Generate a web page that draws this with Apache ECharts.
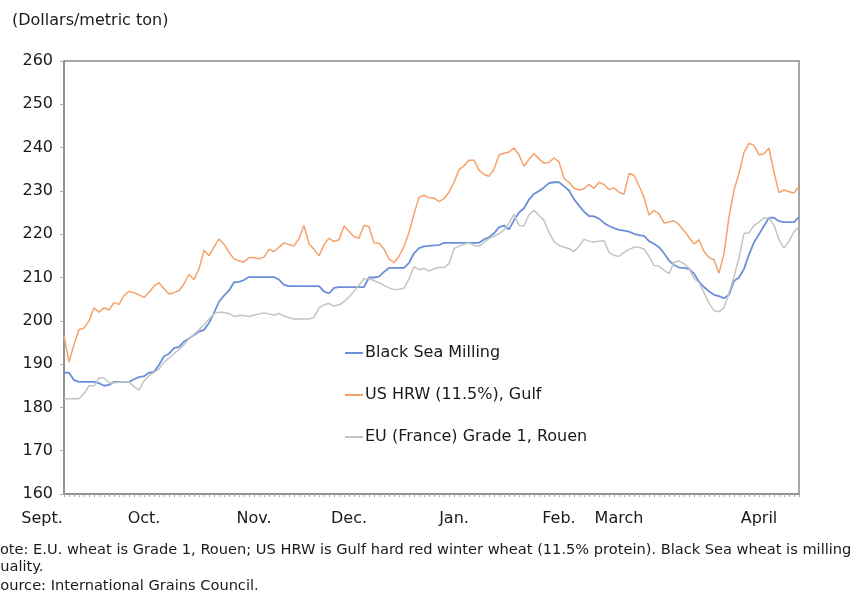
<!DOCTYPE html>
<html>
<head>
    <meta charset="UTF-8">
    <title>Wheat export prices</title>
    <style>
        html, body { margin: 0; padding: 0; background: #fff; }
        #main { width: 856px; height: 595px; }
    </style>
</head>
<body>
<div id="main"></div>
<script src="https://cdn.jsdelivr.net/npm/echarts@6/dist/echarts.min.js"></script>
<script type="text/javascript">
    // month labels and the point index they sit under
    var monthLabels = ['Sept.', 'Oct.', 'Nov.', 'Dec.', 'Jan.', 'Feb.', 'March', 'April'];
    var monthIndex = [0, 16, 38, 57, 78, 99, 111, 139];

    // prices, dollars per metric ton (one point per ~5px)
    var blackSea = [
        188, 188, 186.3, 185.9, 185.9, 185.9, 185.9, 185.6, 185, 185.2,
        185.9, 185.9, 185.9, 185.9, 186.5, 187, 187.2, 188, 188.2, 189.8,
        191.8, 192.4, 193.7, 194, 195.2, 195.9, 196.7, 197.5, 197.9, 199.5,
        201.8, 204.4, 205.8, 207, 208.9, 209, 209.4, 210.1, 210.1, 210.1,
        210.1, 210.1, 210.1, 209.5, 208.3, 208, 208, 208, 208, 208,
        208, 208, 206.8, 206.3, 207.6, 207.8, 207.8, 207.8, 207.8, 207.8,
        207.8, 210, 210, 210.2, 211.3, 212.2, 212.2, 212.2, 212.2, 213.4,
        215.6, 216.8, 217.2, 217.3, 217.4, 217.5, 218, 218, 218, 218,
        218, 218, 218, 218, 218.8, 219.3, 220.2, 221.6, 222, 221.1,
        223.2, 225, 226, 228, 229.3, 230, 230.8, 231.8, 232, 232,
        231.1, 230.1, 228.1, 226.6, 225.2, 224.2, 224.1, 223.6, 222.6, 221.9,
        221.4, 221, 220.8, 220.6, 220.1, 219.8, 219.6, 218.4, 217.8, 217,
        215.6, 213.9, 212.9, 212.3, 212.2, 212, 210.9, 209, 207.8, 206.8,
        206, 205.7, 205.2, 206, 209.2, 210, 212, 215.3, 218.1, 220,
        221.9, 223.8, 223.8, 223, 222.8, 222.8, 222.8, 224
    ];
    var usHrw = [
        196.5, 190.5, 194.5, 198, 198.3, 200, 203, 202, 203, 202.5,
        204.2, 203.8, 205.8, 206.8, 206.5, 206, 205.4, 206.6, 208, 208.8,
        207.4, 206.2, 206.5, 207, 208.5, 210.7, 209.5, 212, 216.3, 215,
        217, 218.9, 217.7, 215.8, 214.3, 213.8, 213.6, 214.6, 214.6, 214.3,
        214.7, 216.5, 216, 217, 218, 217.6, 217.3, 219, 222, 217.8,
        216.5, 215, 217.6, 219.1, 218.3, 218.7, 221.9, 220.7, 219.4, 219.1,
        222, 221.7, 218, 217.9, 216.6, 214.3, 213.4, 214.9, 217.2, 220.4,
        224.7, 228.5, 229, 228.4, 228.4, 227.5, 228.2, 229.7, 232, 234.9,
        235.8, 237.1, 237.1, 234.8, 233.8, 233.4, 235, 238.3, 238.7, 239,
        239.9, 238.3, 235.7, 237.3, 238.6, 237.4, 236.4, 236.6, 237.6, 236.7,
        232.9, 232, 230.6, 230.2, 230.5, 231.5, 230.6, 232, 231.5, 230.3,
        230.7, 229.7, 229.2, 234, 233.6, 231.2, 228.5, 224.4, 225.5, 224.7,
        222.6, 222.8, 223.1, 222.2, 220.8, 219.3, 217.7, 218.7, 216, 214.6,
        214.1, 211, 215.5, 224, 230.2, 234, 238.9, 241, 240.5, 238.3,
        238.6, 239.9, 234.3, 229.6, 230.2, 229.8, 229.5, 231
    ];
    var euRouen = [
        182, 182, 182, 182, 183.2, 185, 185, 186.8, 186.8, 185.7,
        185.7, 185.8, 185.9, 185.9, 184.8, 184, 186.1, 187.3, 188.1, 188.9,
        190.4, 191.4, 192.4, 193.4, 194.5, 195.8, 196.9, 197.9, 199.1, 200.4,
        201.6, 202, 201.9, 201.7, 201, 201.2, 201.2, 201, 201.3, 201.6,
        201.8, 201.6, 201.3, 201.7, 201.1, 200.7, 200.4, 200.4, 200.4, 200.4,
        200.8, 203, 203.7, 204, 203.4, 203.7, 204.4, 205.5, 206.8, 208.2,
        209.7, 209.7, 209.3, 208.8, 208.2, 207.6, 207.2, 207.3, 207.5, 209.7,
        212.5, 211.8, 212.1, 211.5, 212, 212.3, 212.3, 213.2, 216.7, 217.2,
        217.7, 218, 217.4, 217.2, 218.1, 219, 219.5, 220.1, 221, 222.5,
        224.6, 222, 221.9, 224.5, 225.5, 224.3, 223.2, 220.4, 218.3, 217.4,
        217, 216.7, 216, 217.2, 218.8, 218.4, 218.2, 218.4, 218.5, 215.8,
        215.1, 214.9, 215.8, 216.5, 217, 217, 216.6, 214.9, 212.8, 212.6,
        211.7, 210.9, 213.5, 213.8, 213.2, 212.2, 209.8, 208.8, 206.5, 204.1,
        202.4, 202.1, 203, 206.4, 210.2, 214.5, 220.2, 220.3, 222, 222.8,
        223.8, 223.7, 222.1, 218.7, 216.8, 218.4, 220.6, 221.7
    ];

    var seriesNames = ['Black Sea Milling', 'US HRW (11.5%), Gulf', 'EU (France) Grade 1, Rouen'];
    var seriesColors = ['#6b8fd9', '#f5a26c', '#c4c4c4'];

    var days = [];
    for (var i = 0; i < blackSea.length; i++) {
        days.push(i);
    }

    var myChart = echarts.init(document.getElementById('main'));
    var font = 'DejaVu Sans, Liberation Sans, sans-serif';
    var noteFont = '14.6px DejaVu Sans, Liberation Sans, sans-serif';

    var option = {
        animation: false,
        backgroundColor: '#fff',
        title: {
            text: '(Dollars/metric ton)',
            left: 12,
            top: 13,
            padding: 0,
            textStyle: { fontFamily: font, fontSize: 16, fontWeight: 'normal', color: '#1a1a1a' }
        },
        legend: {
            orient: 'vertical',
            left: 345,
            top: 345,
            padding: 0,
            itemWidth: 18,
            itemHeight: 12,
            itemGap: 26,
            icon: 'path://M0,5 L18,5 L18,7 L0,7 Z',
            data: seriesNames,
            textStyle: { fontFamily: font, fontSize: 16, color: '#1a1a1a', padding: [0, 0, 0, -3] }
        },
        grid: {
            left: 64,
            right: 57,
            top: 61,
            bottom: 101,
            show: true,
            borderColor: '#8a8a8a',
            borderWidth: 1.5
        },
        xAxis: {
            type: 'category',
            data: days,
            boundaryGap: false,
            axisLine: { lineStyle: { color: '#8a8a8a', width: 1.5 } },
            axisTick: { interval: 0, length: 3, lineStyle: { color: '#aaa' } },
            axisLabel: {
                interval: function (index) { return monthIndex.indexOf(index) >= 0; },
                formatter: function (value, index) {
                    var k = monthIndex.indexOf(Number(value));
                    if (k < 0) return '';
                    if (k === 0) return '{s|' + monthLabels[k] + '}';
                    return monthLabels[k];
                },
                margin: 17,
                fontFamily: font,
                fontSize: 16,
                color: '#1a1a1a',
                rich: {
                    s: { fontFamily: font, fontSize: 16, color: '#1a1a1a', padding: [0, 44, 0, 0] }
                }
            }
        },
        yAxis: {
            type: 'value',
            min: 160,
            max: 260,
            interval: 10,
            splitLine: { show: false },
            axisLine: { show: true, lineStyle: { color: '#8a8a8a', width: 1.5 } },
            axisTick: { show: true, length: 4, lineStyle: { color: '#aaa' } },
            axisLabel: { fontFamily: font, fontSize: 16, color: '#1a1a1a', margin: 11 }
        },
        series: [
            { name: seriesNames[0], type: 'line', data: blackSea, symbol: 'none', color: seriesColors[0], lineStyle: { width: 1.8 } },
            { name: seriesNames[1], type: 'line', data: usHrw, symbol: 'none', color: seriesColors[1], lineStyle: { width: 1.5 } },
            { name: seriesNames[2], type: 'line', data: euRouen, symbol: 'none', color: seriesColors[2], lineStyle: { width: 1.5 } }
        ],
        graphic: [
            { type: 'text', left: -11, top: 543, style: { text: 'Note: E.U. wheat is Grade 1, Rouen; US HRW is Gulf hard red winter wheat (11.5% protein). Black Sea wheat is milling', font: noteFont, fill: '#1a1a1a' } },
            { type: 'text', left: -9, top: 560, style: { text: 'quality.', font: noteFont, fill: '#1a1a1a' } },
            { type: 'text', left: -9, top: 579, style: { text: 'Source: International Grains Council.', font: noteFont, fill: '#1a1a1a' } }
        ]
    };
    myChart.setOption(option);
</script>
</body>
</html>
